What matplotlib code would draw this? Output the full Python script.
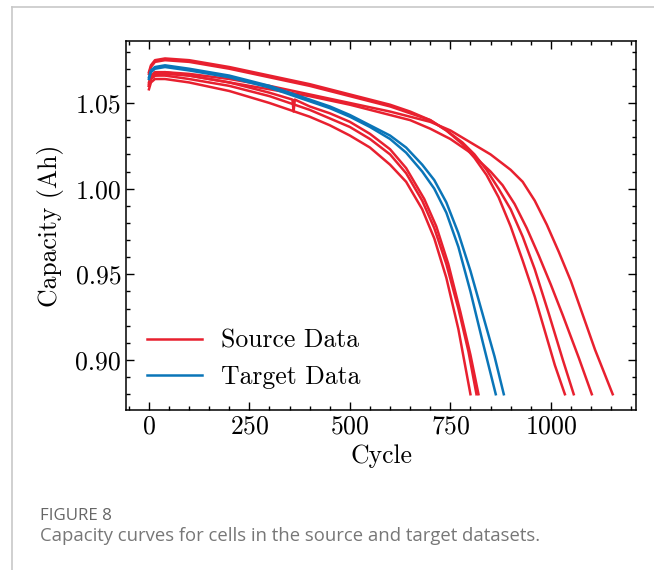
import numpy as np
import matplotlib
matplotlib.use("Agg")
import matplotlib.pyplot as plt
from matplotlib.ticker import MultipleLocator, FormatStrFormatter
from matplotlib.lines import Line2D

plt.rcParams["font.family"] = "serif"
plt.rcParams["font.serif"] = ["cmr10"]
plt.rcParams["mathtext.fontset"] = "cm"
plt.rcParams["axes.formatter.use_mathtext"] = True

# ---- data: (cycle, capacity in Ah) ----
# source cells (red)
src1_cyc = [0, 5, 15, 40, 100, 200, 300, 400, 450, 500, 550, 600, 640, 680, 710, 740, 770, 800]
src1_cap = [1.058, 1.062, 1.064, 1.064, 1.062, 1.057, 1.050, 1.042, 1.037, 1.031, 1.024, 1.014, 1.004, 0.988, 0.971, 0.948, 0.918, 0.880]

src2_cyc = [0, 5, 15, 40, 100, 200, 300, 400, 450, 500, 550, 600, 640, 680, 710, 740, 770, 795, 815]
src2_cap = [1.060, 1.064, 1.066, 1.066, 1.064, 1.060, 1.054, 1.046, 1.041, 1.036, 1.029, 1.020, 1.009, 0.993, 0.977, 0.956, 0.930, 0.905, 0.880]

src3_cyc = [0, 5, 15, 40, 100, 200, 300, 357, 360, 363, 400, 450, 500, 550, 600, 640, 685, 715, 745, 775, 800, 820]
src3_cap = [1.062, 1.066, 1.068, 1.068, 1.066, 1.062, 1.056, 1.052, 1.045, 1.052, 1.048, 1.044, 1.039, 1.032, 1.023, 1.012, 0.994, 0.978, 0.956, 0.928, 0.903, 0.880]

src4_cyc = [0, 5, 15, 40, 100, 200, 300, 400, 500, 600, 650, 700, 740, 780, 810, 840, 870, 900, 930, 960, 990, 1010, 1035]
src4_cap = [1.068, 1.072, 1.075, 1.076, 1.075, 1.071, 1.066, 1.061, 1.055, 1.049, 1.045, 1.040, 1.034, 1.026, 1.018, 1.008, 0.995, 0.978, 0.958, 0.937, 0.913, 0.897, 0.880]

src5_cyc = [0, 5, 15, 40, 100, 200, 300, 400, 500, 600, 650, 700, 740, 780, 810, 840, 870, 900, 930, 960, 995, 1030, 1057]
src5_cap = [1.067, 1.071, 1.074, 1.075, 1.074, 1.070, 1.065, 1.060, 1.054, 1.048, 1.044, 1.040, 1.034, 1.027, 1.020, 1.011, 1.000, 0.988, 0.972, 0.953, 0.927, 0.900, 0.880]

src6_cyc = [0, 5, 15, 40, 100, 200, 300, 400, 500, 600, 650, 700, 750, 800, 850, 880, 910, 940, 970, 1000, 1030, 1070, 1102]
src6_cap = [1.060, 1.064, 1.066, 1.067, 1.066, 1.062, 1.058, 1.054, 1.049, 1.043, 1.040, 1.035, 1.029, 1.021, 1.010, 1.002, 0.991, 0.977, 0.961, 0.944, 0.926, 0.901, 0.880]

src7_cyc = [0, 5, 15, 40, 100, 200, 300, 400, 500, 600, 650, 700, 750, 800, 850, 900, 930, 960, 990, 1020, 1050, 1080, 1110, 1154]
src7_cap = [1.061, 1.065, 1.067, 1.068, 1.067, 1.064, 1.060, 1.055, 1.050, 1.045, 1.042, 1.039, 1.034, 1.027, 1.020, 1.011, 1.004, 0.993, 0.979, 0.963, 0.946, 0.926, 0.906, 0.880]

# target cells (blue)
tgt1_cyc = [0, 5, 15, 40, 100, 200, 300, 400, 450, 500, 550, 600, 640, 680, 710, 740, 770, 800, 830, 863]
tgt1_cap = [1.064, 1.068, 1.070, 1.071, 1.069, 1.065, 1.059, 1.051, 1.047, 1.042, 1.036, 1.029, 1.021, 1.010, 1.000, 0.986, 0.966, 0.940, 0.911, 0.880]

tgt2_cyc = [0, 5, 15, 40, 100, 200, 300, 400, 450, 500, 550, 600, 640, 680, 710, 740, 770, 800, 830, 860, 883]
tgt2_cap = [1.065, 1.069, 1.071, 1.072, 1.070, 1.066, 1.060, 1.052, 1.048, 1.043, 1.037, 1.031, 1.024, 1.014, 1.005, 0.992, 0.974, 0.952, 0.927, 0.902, 0.880]

source = [(src1_cyc, src1_cap), (src2_cyc, src2_cap), (src3_cyc, src3_cap), (src4_cyc, src4_cap),
          (src5_cyc, src5_cap), (src6_cyc, src6_cap), (src7_cyc, src7_cap)]
target = [(tgt1_cyc, tgt1_cap), (tgt2_cyc, tgt2_cap)]

red = "#E8202F"
blue = "#0A75B8"

fig = plt.figure(figsize=(6.54, 5.70), dpi=100)
ax = fig.add_axes([0.1927, 0.2807, 0.7798, 0.6474])

for c, q in source:
    ax.plot(c, q, color=red, lw=1.8)
for c, q in target:
    ax.plot(c, q, color=blue, lw=1.8)

ax.set_xlim(-57, 1212)
ax.set_ylim(0.8708, 1.0862)
ax.xaxis.set_major_locator(MultipleLocator(250))
ax.xaxis.set_minor_locator(MultipleLocator(50))
ax.yaxis.set_major_locator(MultipleLocator(0.05))
ax.yaxis.set_minor_locator(MultipleLocator(0.01))
ax.yaxis.set_major_formatter(FormatStrFormatter("%.2f"))
ax.tick_params(which="both", direction="in", top=True, right=True, labelsize=18.5, width=1.0)
ax.tick_params(which="major", length=6)
ax.tick_params(which="minor", length=3)
for s in ax.spines.values():
    s.set_linewidth(1.1)

ax.set_xlabel("Cycle", fontsize=18.5, labelpad=4)
ax.set_ylabel("Capacity (Ah)", fontsize=18.5, labelpad=8)

handles = [Line2D([], [], color=red, lw=1.8), Line2D([], [], color=blue, lw=1.8)]
ax.legend(handles, ["Source Data", "Target Data"], loc="lower left", frameon=False,
          fontsize=18.5, handlelength=2.15, handletextpad=0.75,
          borderaxespad=0.4, labelspacing=0.5)

# caption and page frame
fig.text(40 / 654, 1 - 516 / 570, "FIGURE 8", family=["Open Sans"], fontsize=12.2,
         color="#666666", va="center", weight="medium")
fig.text(40 / 654, 1 - 536 / 570, "Capacity curves for cells in the source and target datasets.",
         family=["Open Sans"], fontsize=13.3, color="#777777", va="center")
fig.add_artist(Line2D([12 / 654, 1], [1 - 7 / 570, 1 - 7 / 570], color="#c8c8c8", lw=1.2))
fig.add_artist(Line2D([12 / 654, 12 / 654], [1 - 7 / 570, 0], color="#c8c8c8", lw=1.2))

fig.savefig("out.png", dpi=100)
